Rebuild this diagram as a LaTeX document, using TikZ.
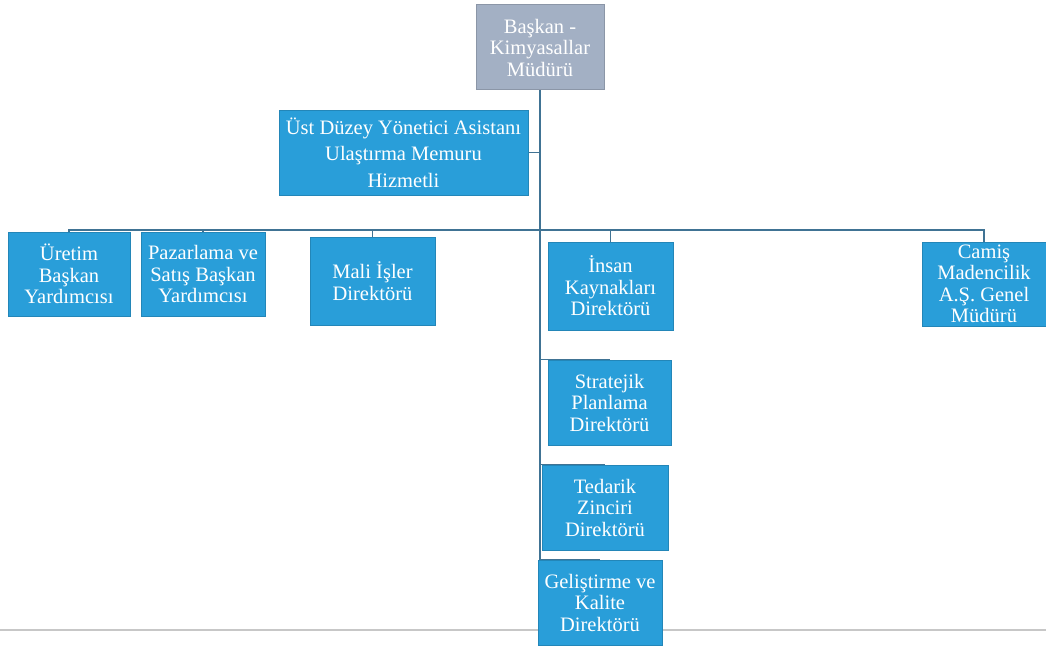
\documentclass[tikz,border=0pt]{standalone}
\usepackage{fontspec}
\setmainfont{Liberation Serif}
\newlength{\du}
\setlength{\du}{0.6\unitlength}
\definecolor{kutumavi}{rgb}{0.160000, 0.620000, 0.850000}
\definecolor{kutugri}{rgb}{0.640000, 0.690000, 0.770000}
\definecolor{hatrengi}{rgb}{0.250000, 0.450000, 0.580000}
\tikzset{
  kutu/.style={fill=kutumavi, draw=kutumavi!85!black, line width=0.6pt, text=white,
    align=center, inner sep=0pt, font=\fontsize{12.3}{12.9}\selectfont},
  hat/.style={draw=hatrengi, line width=1.1pt},
}
\begin{document}
\begin{tikzpicture}
\pgftransformxscale{1.000000}
\pgftransformyscale{-1.000000}
\useasboundingbox (0\du,0\du) rectangle (1046\du,648\du);
% page edge of the scan
\draw[line width=0.8pt, color=black!22] (0\du,630\du)--(1046\du,630\du);
% top
\node[kutu, fill=kutugri, draw=kutugri!85!black, minimum width=128\du, minimum height=85\du] (baskan) at (540.000000\du,47.500000\du){Başkan -\\Kimyasallar\\Müdürü};
\node[kutu, minimum width=249\du, minimum height=85\du, font=\fontsize{12.3}{16}\selectfont] (asistan) at (403.500000\du,152.500000\du){Üst Düzey Yönetici Asistanı\\Ulaştırma Memuru\\Hizmetli};
% first row
\node[kutu, minimum width=122\du, minimum height=84\du] (uretim) at (69.000000\du,274.000000\du){Üretim\\Başkan\\Yardımcısı};
\node[kutu, minimum width=124\du, minimum height=84\du] (pazarlama) at (203.000000\du,274.000000\du){Pazarlama ve\\Satış Başkan\\Yardımcısı};
\node[kutu, minimum width=125\du, minimum height=88\du] (mali) at (372.500000\du,281.000000\du){Mali İşler\\Direktörü};
\node[kutu, minimum width=125\du, minimum height=88\du] (insan) at (610.500000\du,286.000000\du){İnsan\\Kaynakları\\Direktörü};
\node[kutu, minimum width=124\du, minimum height=84\du] (camis) at (984.000000\du,284.000000\du){Camiş\\Madencilik\\A.Ş. Genel\\Müdürü};
% column under the trunk
\node[kutu, minimum width=123\du, minimum height=85\du] (stratejik) at (609.500000\du,402.500000\du){Stratejik\\Planlama\\Direktörü};
\node[kutu, minimum width=126\du, minimum height=85\du] (tedarik) at (605.000000\du,507.500000\du){Tedarik\\Zinciri\\Direktörü};
\node[kutu, minimum width=124\du, minimum height=85\du] (gelistirme) at (600.000000\du,602.500000\du){Geliştirme ve\\Kalite\\Direktörü};
\coordinate (bus) at (540.000000\du,230.000000\du);
% connectors
\draw[hat] (baskan.south)--(baskan.south |- gelistirme.north);
\draw[hat] (asistan.east)--(asistan.east -| baskan.south);
\draw[hat] (bus) -| (uretim.north);
\draw[hat] (bus) -| (pazarlama.north);
\draw[hat] (bus) -| (mali.north);
\draw[hat] (bus) -| (insan.north);
\draw[hat] (bus) -| (camis.north);
\draw[hat] (baskan.south |- stratejik.north)--(stratejik.north);
\draw[hat] (baskan.south |- tedarik.north)--(tedarik.north);
\draw[hat] (baskan.south |- gelistirme.north)--(gelistirme.north);
\end{tikzpicture}
\end{document}
